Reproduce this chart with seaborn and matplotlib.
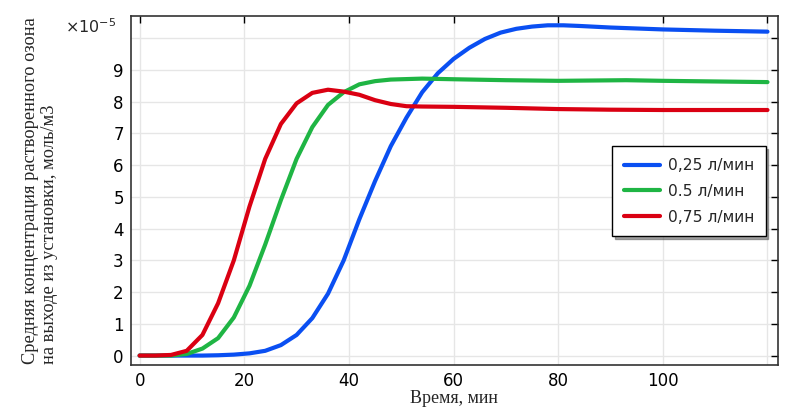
import numpy as np
import pandas as pd
import matplotlib
matplotlib.use("Agg")
import matplotlib.pyplot as plt
import seaborn as sns

# Data (values in units of 1e-5 mol/m3)
t_blue = [0, 3, 6, 9, 12, 15, 18, 21, 24, 27, 30, 33, 36, 39, 42, 45, 48, 51, 54, 57, 60, 63, 66, 69, 72, 75, 78, 81, 84, 90, 100, 110, 120]
c_blue = [0, 0, 0, 0, 0.0, 0.01, 0.03, 0.07, 0.15, 0.33, 0.65, 1.18, 1.95, 3.0, 4.3, 5.5, 6.6, 7.5, 8.3, 8.9, 9.35, 9.7, 9.98, 10.18, 10.3, 10.37, 10.41, 10.41, 10.39, 10.34, 10.28, 10.24, 10.21]

t_green = [0, 3, 6, 9, 12, 15, 18, 21, 24, 27, 30, 33, 36, 39, 42, 45, 48, 54, 60, 70, 80, 93, 100, 110, 120]
c_green = [0, 0, 0, 0.05, 0.22, 0.55, 1.2, 2.2, 3.5, 4.9, 6.2, 7.2, 7.9, 8.3, 8.55, 8.65, 8.7, 8.73, 8.71, 8.68, 8.66, 8.68, 8.66, 8.64, 8.62]

t_red = [0, 3, 6, 9, 12, 15, 18, 21, 24, 27, 30, 33, 36, 39, 42, 45, 48, 51, 54, 60, 70, 80, 90, 100, 110, 120]
c_red = [0, 0, 0.02, 0.15, 0.65, 1.65, 3.0, 4.7, 6.2, 7.3, 7.95, 8.28, 8.38, 8.32, 8.22, 8.05, 7.93, 7.86, 7.85, 7.84, 7.81, 7.77, 7.75, 7.74, 7.74, 7.74]

labels = ["0,25 л/мин", "0.5 л/мин", "0,75 л/мин"]
colors = ["#0A4FF2", "#1FB544", "#DA0012"]

xticks = [0, 20, 40, 60, 80, 100, 120]
xticklabels = ["0", "20", "40", "60", "80", "100", ""]
yticks = list(range(0, 11))
yticklabels = [str(i) for i in range(10)] + [""]

df = pd.concat([
    pd.DataFrame({"t": t_blue, "c": c_blue, "s": labels[0]}),
    pd.DataFrame({"t": t_green, "c": c_green, "s": labels[1]}),
    pd.DataFrame({"t": t_red, "c": c_red, "s": labels[2]}),
])

sns.set_style("white")
plt.rcParams["font.family"] = ["DejaVu Sans"]

fig = plt.figure(figsize=(8.07, 4.13), dpi=100)
ax = fig.add_axes([0.162, 0.116, 0.802, 0.845])

sns.lineplot(data=df, x="t", y="c", hue="s", palette=colors, linewidth=3.0,
             ax=ax, sort=False, estimator=None)

ax.set_xlim(-1.7, 122)
ax.set_ylim(-0.3, 10.7)
ax.set_xticks(xticks)
ax.set_xticklabels(xticklabels)
ax.set_yticks(yticks)
ax.set_yticklabels(yticklabels)
ax.grid(True, color="#e6e6e6", linewidth=1.0)
ax.set_axisbelow(True)
ax.tick_params(direction="in", length=5, width=1, top=True, right=True,
               labelsize=12, colors="black", pad=5)
for sp in ax.spines.values():
    sp.set_color("#333333")
    sp.set_linewidth(1.2)

ax.set_xlabel("Время, мин", family="Liberation Serif", fontsize=13, labelpad=0)
ax.set_ylabel("Средняя концентрация растворенного озона\nна выходе из установки, моль/м3",
              family="Liberation Serif", fontsize=13.2, linespacing=1.2,
              multialignment="left")
ax.yaxis.set_label_coords(-0.112, 0.5)

fig.text(0.081, 0.935, r"$\times$10$^{-5}$", fontsize=11.5, ha="left", va="center")

leg = ax.legend(loc="upper right", bbox_to_anchor=(0.981, 0.627), borderaxespad=0,
                fancybox=False, shadow=True, edgecolor="black", fontsize=11.2,
                handlelength=2.3, borderpad=0.75, labelspacing=0.7,
                handletextpad=0.5, framealpha=1)
leg.get_frame().set_linewidth(1.0)

fig.savefig("out.png", dpi=100)
